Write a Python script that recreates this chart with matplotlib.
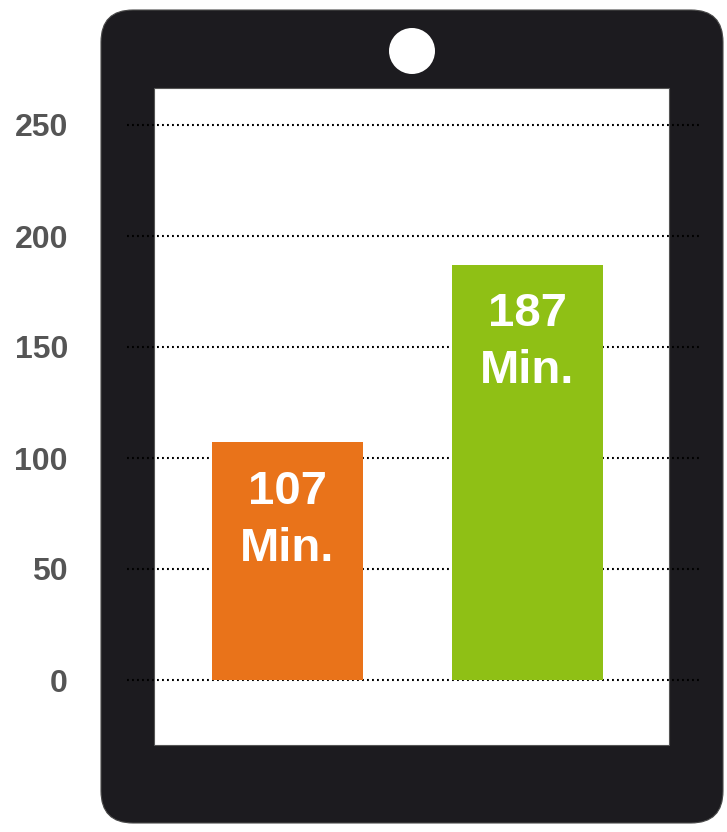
import matplotlib.pyplot as plt
from matplotlib.patches import FancyBboxPatch, Rectangle, Circle
from matplotlib.transforms import blended_transform_factory

# data
categories = ['A', 'B']
minutes = [107, 187]
bar_labels = ['107\nMin.', '187\nMin.']
bar_colors = ['#E9731A', '#8FC015']
y_ticks = [0, 50, 100, 150, 200, 250]

W, H = 727, 832
fig = plt.figure(figsize=(W / 100, H / 100), dpi=100)

# background tablet drawn in pixel coordinates
bg = fig.add_axes([0, 0, 1, 1])
bg.set_xlim(0, W)
bg.set_ylim(H, 0)
bg.axis('off')

frame = FancyBboxPatch((101 + 32, 10 + 32), 622 - 64, 813 - 64,
                       boxstyle='round,pad=32', facecolor='#1C1B1F',
                       edgecolor='#4a4a4a', linewidth=0.8)
bg.add_patch(frame)
bg.add_patch(Rectangle((154, 88), 515, 657, facecolor='white',
                       edgecolor='#555555', linewidth=0.8))
bg.add_patch(Circle((412, 51), 23, facecolor='white', edgecolor='none'))

# chart axes on top: y=0 at pixel 680, 250 at pixel 125
ax = fig.add_axes([0, 0, 1, 1])
ax.patch.set_alpha(0)
ppu = (680 - 125) / 250.0
ax.set_ylim(-(H - 680) / ppu, 680 / ppu)
xs = 240.0
ax.set_xlim(-287.5 / xs, (W - 287.5) / xs)
ax.axis('off')

x_pos = list(range(len(categories)))

# dotted grid lines
gx0 = (127 - 287.5) / xs
gx1 = (702 - 287.5) / xs
ax.hlines(y_ticks, gx0, gx1, colors='black', linestyles=(0, (0.9, 1.5)),
          linewidth=1.5, zorder=1)

ax.bar(x_pos, minutes, width=151 / xs, color=bar_colors, zorder=2)

for x, v, lab in zip(x_pos, minutes, bar_labels):
    ax.annotate(lab, (x, v), xytext=(0, -78), textcoords='offset pixels',
                ha='center', va='center', color='white', fontsize=34,
                fontweight='bold', family='Liberation Sans', linespacing=1.38,
                zorder=3)

trans = blended_transform_factory(fig.transFigure, ax.transData)
for t in y_ticks:
    ax.text(68 / W, t, str(t), transform=trans, ha='right',
            va='center_baseline', fontsize=23, fontweight='bold',
            color='#555555', family='Liberation Sans')

fig.savefig('out.png', dpi=100)
